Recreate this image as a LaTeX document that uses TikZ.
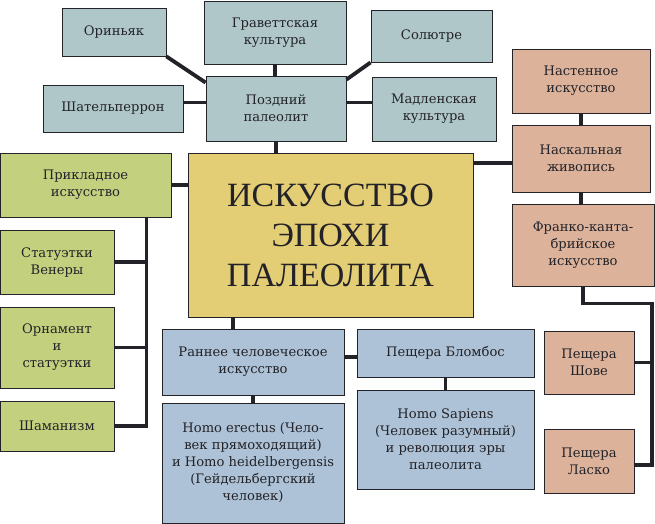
\documentclass[tikz,border=0pt]{standalone}
\usepackage{fontspec}
\setmainfont{DejaVu Serif}
\newfontfamily\titlefont{Liberation Serif}
\usetikzlibrary{calc}
\definecolor{tealbox}{HTML}{AFC7C8}
\definecolor{salmonbox}{HTML}{DDB29A}
\definecolor{greenbox}{HTML}{C3D17F}
\definecolor{yellowbox}{HTML}{E4CE75}
\definecolor{bluebox}{HTML}{ADC2D6}
\definecolor{ink}{HTML}{222228}

\begin{document}
\begin{tikzpicture}[x=1pt, y=-1pt, semithick,
                    box/.style={draw=ink, line width=0.9pt, align=center, inner sep=2pt, text=ink,
                                font=\fontsize{13.1}{17}\selectfont},
                    link/.style={draw=ink, line width=3.8pt}]

                    \useasboundingbox (0,0) rectangle (655,524);

                    \node[box, fill=tealbox, minimum width=104pt, minimum height=48pt] (orin) at (114,32) {Ориньяк};
                    \node[box, fill=tealbox, minimum width=142pt, minimum height=63pt] (grav) at (275,32.5) {Граветтская\\культура};
                    \node[box, fill=tealbox, minimum width=121pt, minimum height=52pt] (solu) at (431.5,36) {Солютре};
                    \node[box, fill=tealbox, minimum width=140pt, minimum height=47pt] (shat) at (113,108.5) {Шательперрон};
                    \node[box, fill=tealbox, minimum width=140pt, minimum height=65pt] (pozd) at (276,108.5) {Поздний\\палеолит};
                    \node[box, fill=tealbox, minimum width=124pt, minimum height=64pt] (madl) at (434,109) {Мадленская\\культура};

                    \node[box, fill=salmonbox, minimum width=138pt, minimum height=64pt] (nast) at (581,81) {Настенное\\искусство};
                    \node[box, fill=salmonbox, minimum width=138pt, minimum height=67pt] (nask) at (581,158.5) {Наскальная\\живопись};
                    \node[box, fill=salmonbox, minimum width=142pt, minimum height=82pt] (fran) at (583,245) {Франко-канта-\\брийское\\искусство};
                    \node[box, fill=salmonbox, minimum width=90pt, minimum height=63pt] (shov) at (589,362.5) {Пещера\\Шове};
                    \node[box, fill=salmonbox, minimum width=90pt, minimum height=64pt] (lask) at (589,461) {Пещера\\Ласко};

                    \node[box, fill=yellowbox, minimum width=285pt, minimum height=164pt,
                          font=\titlefont\fontsize{34}{40}\selectfont] (main) at (330.5,235) {ИСКУССТВО\\ЭПОХИ\\ПАЛЕОЛИТА};

                    \node[box, fill=greenbox, minimum width=171pt, minimum height=64pt] (prik) at (85.5,185) {Прикладное\\искусство};
                    \node[box, fill=greenbox, minimum width=114pt, minimum height=64pt] (stat) at (57,262) {Статуэтки\\Венеры};
                    \node[box, fill=greenbox, minimum width=114pt, minimum height=81pt] (orna) at (57,347.5) {Орнамент\\и\\статуэтки};
                    \node[box, fill=greenbox, minimum width=114pt, minimum height=50pt] (sham) at (57,426) {Шаманизм};

                    \node[box, fill=bluebox, minimum width=182pt, minimum height=66pt] (rann) at (253,362) {Раннее человеческое\\искусство};
                    \node[box, fill=bluebox, minimum width=182pt, minimum height=120pt] (erec) at (253,463) {Homo erectus (Чело-\\век прямоходящий)\\и Homo heidelbergensis\\(Гейдельбергский\\человек)};
                    \node[box, fill=bluebox, minimum width=177pt, minimum height=48pt] (blom) at (445.5,353) {Пещера Бломбос};
                    \node[box, fill=bluebox, minimum width=177pt, minimum height=99pt] (sapi) at (445.5,439.5) {Homo Sapiens\\(Человек разумный)\\и революция эры\\палеолита};

                    \draw[link] (orin.south east) -- ([yshift=-7pt]pozd.north west);
                    \draw[link] (grav.south) -- (grav.south |- pozd.north);
                    \draw[link] (solu.south west) -- ([yshift=-4pt]pozd.north east);
                    \draw[link] ([yshift=6pt]shat.east) -- ([yshift=6pt]pozd.west);
                    \draw[link] (pozd.east) ++(0,6pt) coordinate (pm) -- (pm -| madl.west);
                    \draw[link] (pozd.south) -- (pozd.south |- main.north);

                    \draw[link] (prik.east) -- (prik.east -| main.west);
                    \coordinate (spine) at ([xshift=-25pt]prik.south east);
                    \draw[link] (spine) |- (sham.east);
                    \draw[link] (stat.east) -- (stat.east -| spine);
                    \draw[link] (orna.east) -- (orna.east -| spine);

                    \coordinate (mb) at ([xshift=-20pt]rann.north);
                    \draw[link] (mb) -- (mb |- main.south);
                    \draw[link] ([yshift=-4pt]blom.west) coordinate (bw) -- (bw -| rann.east);
                    \draw[link] (rann.south) -- (erec.north);
                    \draw[link] (blom.south) -- (blom.south |- sapi.north);

                    \draw[link] ([yshift=-4.5pt]nask.west) coordinate (nw) -- (nw -| main.east);
                    \draw[link] (nast.south) -- (nast.south |- nask.north);
                    \draw[link] (nask.south) -- (nask.south |- fran.north);
                    \coordinate (rail) at ($(fran.south)+(69pt,-17pt)$);
                    \draw[link] (fran.south) |- (rail) |- ([yshift=-4pt]lask.east);
                    \draw[link] (shov.east) -- (shov.east -| rail);
                \end{tikzpicture}
\end{document}
